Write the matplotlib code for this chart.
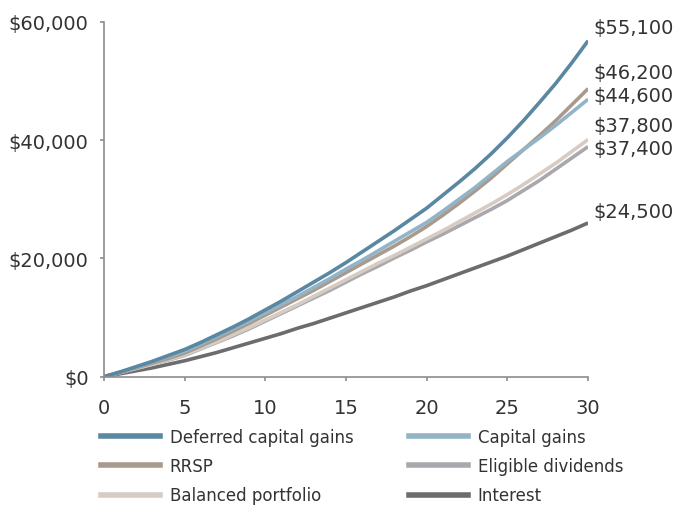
import matplotlib
matplotlib.use("Agg")
import matplotlib.pyplot as plt
from matplotlib.lines import Line2D
from matplotlib.ticker import FuncFormatter

plt.rcParams['font.family'] = ['DejaVu Sans']

years = list(range(0, 31))

deferred = [0, 0.8, 1.7, 2.6, 3.6, 4.6, 5.8, 7.1, 8.4, 9.8, 11.3, 12.8, 14.4, 16.0, 17.6, 19.3,
            21.1, 22.9, 24.7, 26.6, 28.5, 30.7, 32.9, 35.2, 37.7, 40.4, 43.3, 46.4, 49.6, 53.1, 56.8]
capital_gains = [0, 0.8, 1.6, 2.5, 3.4, 4.3, 5.5, 6.8, 8.1, 9.4, 10.8, 12.2, 13.6, 15.1, 16.6, 18.2,
                 19.7, 21.3, 22.9, 24.5, 26.1, 28.0, 30.0, 32.0, 34.2, 36.4, 38.4, 40.4, 42.5, 44.7, 46.9]
rrsp = [0, 0.7, 1.5, 2.3, 3.1, 4.0, 5.2, 6.4, 7.7, 9.0, 10.4, 11.8, 13.2, 14.6, 16.1, 17.6,
        19.1, 20.6, 22.1, 23.7, 25.4, 27.3, 29.3, 31.4, 33.6, 36.0, 38.4, 40.8, 43.3, 46.0, 48.7]
balanced = [0, 0.7, 1.4, 2.1, 2.9, 3.7, 4.8, 5.9, 7.1, 8.3, 9.6, 10.9, 12.2, 13.6, 15.0, 16.4,
            17.8, 19.2, 20.5, 21.9, 23.3, 24.7, 26.2, 27.7, 29.2, 30.8, 32.5, 34.3, 36.1, 38.1, 40.1]
eligible = [0, 0.7, 1.4, 2.1, 2.8, 3.6, 4.7, 5.8, 6.9, 8.1, 9.4, 10.7, 12.0, 13.3, 14.6, 16.0,
            17.4, 18.7, 20.1, 21.4, 22.8, 24.1, 25.5, 26.9, 28.3, 29.8, 31.5, 33.2, 35.1, 37.0, 38.9]
interest = [0, 0.5, 1.0, 1.5, 2.1, 2.7, 3.4, 4.1, 4.9, 5.7, 6.5, 7.3, 8.2, 9.0, 9.9, 10.8,
            11.7, 12.6, 13.5, 14.5, 15.4, 16.4, 17.4, 18.4, 19.4, 20.4, 21.5, 22.6, 23.7, 24.8, 26.0]

series_names = ["Deferred capital gains", "Capital gains", "RRSP",
                "Eligible dividends", "Balanced portfolio", "Interest"]
end_labels = ["$55,100", "$46,200", "$44,600", "$37,800", "$37,400", "$24,500"]
end_label_y = [59100, 51500, 47500, 42400, 38500, 28000]

colors = {
    "Deferred capital gains": "#5a87a1",
    "Capital gains": "#93b3c7",
    "RRSP": "#a89a8c",
    "Eligible dividends": "#a9a9ad",
    "Balanced portfolio": "#d6ccc4",
    "Interest": "#6b6c6f",
}
data = {
    "Deferred capital gains": deferred,
    "Capital gains": capital_gains,
    "RRSP": rrsp,
    "Eligible dividends": eligible,
    "Balanced portfolio": balanced,
    "Interest": interest,
}

fig = plt.figure(figsize=(6.76, 5.06), dpi=100)
ax = fig.add_axes([0.1537, 0.2535, 0.7163, 0.7015])

draw_order = ["Interest", "Eligible dividends", "Balanced portfolio", "RRSP", "Capital gains", "Deferred capital gains"]
for name in draw_order:
    ax.plot(years, [v * 1000 for v in data[name]], color=colors[name], lw=2.6, solid_capstyle='butt')

ax.set_xlim(0, 30)
ax.set_ylim(0, 60000)
ax.set_xticks([0, 5, 10, 15, 20, 25, 30])
ax.set_yticks([0, 20000, 40000, 60000])
ax.yaxis.set_major_formatter(FuncFormatter(lambda v, p: "${:,.0f}".format(v)))

text_color = "#333333"
for s in ["top", "right"]:
    ax.spines[s].set_visible(False)
for s in ["left", "bottom"]:
    ax.spines[s].set_color("#8c8c8c")
    ax.spines[s].set_linewidth(1.2)
ax.tick_params(axis='both', colors="#8c8c8c", length=3, width=1.2, labelsize=14, labelcolor=text_color)
ax.tick_params(axis='x', pad=12)
ax.tick_params(axis='y', pad=8)

for lab, yv in zip(end_labels, end_label_y):
    ax.text(30.35, yv, lab, fontsize=14, color=text_color, va='center', ha='left', clip_on=False)

# legend (row-major order: reorder for column-major fill)
handles = {n: Line2D([], [], color=colors[n], lw=4) for n in series_names}
leg_order = ["Deferred capital gains", "RRSP", "Balanced portfolio",
             "Capital gains", "Eligible dividends", "Interest"]
leg = fig.legend([handles[n] for n in leg_order], leg_order, ncol=2, loc='upper left',
                 bbox_to_anchor=(0.14, 0.166), frameon=False, fontsize=12,
                 handlelength=3.5, handletextpad=0.6, columnspacing=3.35,
                 labelspacing=0.68, borderaxespad=0)
for t in leg.get_texts():
    t.set_color(text_color)

fig.savefig("out.png", dpi=100)
